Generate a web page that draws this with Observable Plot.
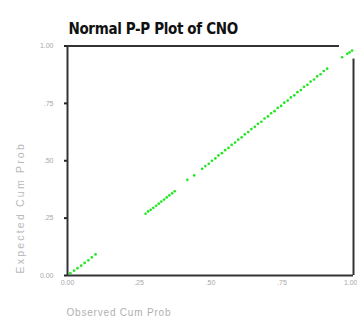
<!DOCTYPE html>
<html>
<head>
<meta charset="utf-8">
<script src="https://cdn.jsdelivr.net/npm/d3@7"></script>
<script src="https://cdn.jsdelivr.net/npm/@observablehq/plot@0.6"></script>
<style>
  html, body { margin: 0; padding: 0; background: #fff; }
  #chart svg { display: block; }
</style>
</head>
<body>
<div id="chart"></div>
<script>
const titleText = "Normal P-P Plot of CNO";
const xLabel = "Observed Cum Prob";
const yLabel = "Expected Cum Prob";
const tickValues = [0, 0.25, 0.5, 0.75, 1];
const tickLabels = ["0.00", ".25", ".50", ".75", "1.00"];

const observedProb = [
  0.010, 0.023, 0.035, 0.048, 0.060, 0.073, 0.085, 0.098,
  0.273, 0.282, 0.291, 0.300, 0.310, 0.319, 0.328, 0.338, 0.347, 0.356, 0.366, 0.375,
  0.419, 0.443,
  0.471, 0.482, 0.494, 0.505, 0.517, 0.528, 0.540, 0.551, 0.563, 0.574,
  0.586, 0.597, 0.609, 0.620, 0.632, 0.643, 0.655, 0.666, 0.678, 0.689,
  0.701, 0.712, 0.724, 0.735, 0.747, 0.758, 0.770, 0.781, 0.793, 0.804,
  0.816, 0.827, 0.839, 0.850, 0.862, 0.873, 0.885, 0.896, 0.908,
  0.960, 0.978, 0.986, 0.995
];
const expectedProb = [
  0.010, 0.021, 0.032, 0.043, 0.055, 0.066, 0.079, 0.092,
  0.269, 0.279, 0.286, 0.295, 0.304, 0.313, 0.322, 0.331, 0.340, 0.349, 0.358, 0.367,
  0.417, 0.436,
  0.465, 0.477, 0.487, 0.500, 0.510, 0.523, 0.533, 0.546, 0.556, 0.569,
  0.579, 0.592, 0.602, 0.615, 0.625, 0.638, 0.648, 0.661, 0.670, 0.684,
  0.693, 0.707, 0.716, 0.730, 0.739, 0.753, 0.762, 0.776, 0.785, 0.799,
  0.808, 0.822, 0.831, 0.845, 0.854, 0.868, 0.877, 0.891, 0.901,
  0.951, 0.966, 0.972, 0.980
];

const points = observedProb.map((x, i) => ({x, y: expectedProb[i]}));
const fmt = d => tickLabels[tickValues.indexOf(d)];
const FONT = "'Liberation Sans Narrow', 'DejaVu Sans Condensed', Arial, sans-serif";

const chart = Plot.plot({
  width: 357,
  height: 323,
  marginLeft: 67,
  marginRight: 4,
  marginTop: 45.5,
  marginBottom: 48,
  style: {fontFamily: "Arial, 'Liberation Sans', sans-serif", background: "#fff"},
  x: {domain: [0, 1]},
  y: {domain: [0, 1]},
  marks: [
    Plot.axisX(tickValues, {tickSize: 0, tickPadding: 5, tickFormat: fmt, fontSize: 7, fill: "#a8a8a8", label: null}),
    Plot.axisY(tickValues, {tickSize: 3, text: null, stroke: "#222", strokeWidth: 2, label: null}),
    Plot.axisY(tickValues, {tickSize: 0, tickPadding: 14, tickFormat: fmt, fontSize: 7, fill: "#a8a8a8", label: null}),
    Plot.ruleX([0], {stroke: "#333", strokeWidth: 2}),
    Plot.ruleY([0], {stroke: "#333", strokeWidth: 2}),
    Plot.ruleY([1], {x1: 0, x2: 0.951, stroke: "#333", strokeWidth: 2}),
    Plot.ruleX([1], {y1: 0, y2: 0.943, stroke: "#333", strokeWidth: 2}),
    Plot.dot(points, {x: "x", y: "y", r: 1.35, fill: "#22e822", stroke: null}),
    Plot.text([titleText], {frameAnchor: "top-left", dx: 1, dy: -23, textAnchor: "start", fontSize: 15, fontWeight: "bold", fontFamily: FONT, fill: "#111"}),
    Plot.text([xLabel], {frameAnchor: "bottom-left", dx: -1, dy: 40, textAnchor: "start", fontSize: 10, fill: "#b0b0b0"}),
    Plot.text([yLabel], {frameAnchor: "left", dx: -47, dy: 47, rotate: -90, textAnchor: "middle", fontSize: 10.5, fill: "#b8b8b8"})
  ]
});

d3.select(chart).selectAll("text").each(function() {
  const t = this.textContent;
  if (t === yLabel) this.setAttribute("letter-spacing", "2.2");
  if (t === xLabel) this.setAttribute("letter-spacing", "0.8");
  if (t === titleText) this.setAttribute("letter-spacing", "-0.35");
  if (t === "1.00" && this.closest("g[aria-label='x-axis tick label']")) {
    this.setAttribute("text-anchor", "end");
    this.setAttribute("dx", "4");
  }
});

document.getElementById("chart").appendChild(chart);
</script>
</body>
</html>
